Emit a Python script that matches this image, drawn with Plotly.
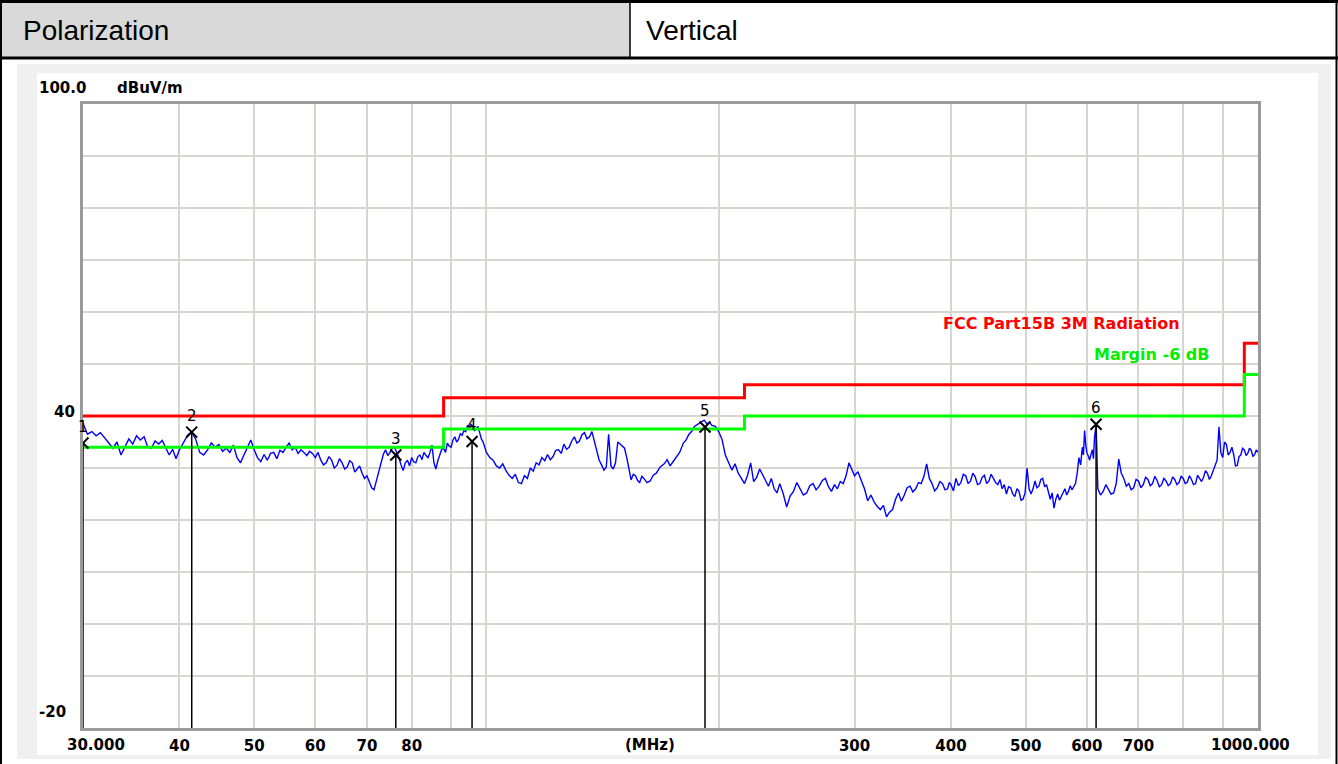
import math
import plotly.graph_objects as go

# ---------------- data ----------------
header_left = "Polarization"
header_right = "Vertical"

band_30_60 = [
    (30.0, 38.6), (30.4, 36.5), (30.8, 37.0), (31.2, 36.2), (31.6, 36.8), (32.0, 35.9), (32.4, 34.8),
    (32.8, 33.8), (33.2, 35.0), (33.6, 32.5), (34.0, 34.2), (34.4, 35.6), (34.8, 34.6), (35.2, 36.2),
    (35.6, 35.4), (36.0, 36.0), (36.4, 34.0), (36.8, 33.8), (37.2, 35.2), (37.6, 34.6), (38.0, 35.3),
    (38.4, 34.0), (38.8, 32.5), (39.2, 33.6), (39.6, 31.8),
    (40.0, 33.5), (40.5, 35.0), (41.0, 36.3), (41.5, 37.0), (42.0, 35.5), (42.5, 33.0), (43.0, 32.5),
    (43.5, 33.5), (44.0, 34.8), (44.5, 34.0), (45.0, 34.5), (45.5, 33.2), (46.0, 33.8), (46.5, 33.0),
    (47.0, 34.4), (47.5, 32.0), (48.0, 31.0), (48.5, 32.5), (49.0, 34.0), (49.5, 35.4), (50.0, 33.5),
    (50.5, 32.0), (51.0, 31.2), (51.5, 32.6), (52.0, 31.5), (52.5, 32.8), (53.0, 33.0), (53.5, 31.8),
    (54.0, 33.4), (54.5, 33.0), (55.0, 34.0), (55.5, 34.8), (56.0, 33.5), (56.5, 34.0), (57.0, 32.8),
    (57.5, 33.5), (58.0, 33.0), (58.5, 32.4), (59.0, 33.2), (59.5, 32.8),
]
band_60_100 = [
    (60.0, 32.0), (60.5, 33.0), (61.0, 31.5), (61.5, 30.6), (62.0, 31.0), (62.5, 32.2), (63.0, 31.5),
    (63.5, 30.0), (64.0, 30.5), (64.5, 31.8), (65.0, 31.0), (65.5, 29.8), (66.0, 30.2), (66.5, 31.4),
    (67.0, 31.0), (67.5, 29.2), (68.0, 29.8), (68.5, 30.4), (69.0, 29.0), (69.5, 28.0), (70.0, 28.5),
    (70.5, 27.2), (71.0, 26.2), (71.5, 25.8), (72.0, 27.5), (72.5, 29.5), (73.0, 31.0), (73.5, 32.6),
    (74.0, 33.5), (74.5, 32.4), (75.0, 33.0), (75.5, 33.8), (76.0, 34.0), (76.5, 33.0), (77.0, 32.0),
    (77.5, 30.6), (78.0, 29.5), (78.5, 31.0), (79.0, 31.5), (79.5, 30.4), (80.0, 32.0), (80.5, 31.2),
    (81.0, 31.0), (81.5, 32.2), (82.0, 32.5), (82.5, 31.6), (83.0, 33.0), (83.5, 32.4), (84.0, 32.0),
    (84.5, 33.0), (85.0, 34.4), (85.5, 31.0), (86.0, 29.8), (86.5, 31.4), (87.0, 32.5), (87.5, 33.6),
    (88.0, 33.8), (88.5, 33.0), (89.0, 34.8), (89.5, 34.2), (90.0, 34.0), (90.5, 35.4), (91.0, 36.0),
    (91.5, 35.0), (92.0, 35.5), (92.5, 36.6), (93.0, 36.3), (93.5, 37.2), (94.0, 37.0), (94.5, 38.2),
    (95.0, 37.8), (95.5, 38.4), (96.0, 38.0), (96.5, 37.2), (97.0, 37.5), (97.5, 38.0), (98.0, 36.8),
    (98.5, 35.6), (99.0, 35.0), (99.5, 34.0),
]
band_100_200 = [
    (100, 33.0), (101, 32.0), (102, 31.5), (103, 30.4), (104, 30.0), (105, 30.8), (106, 29.5),
    (107, 28.6), (108, 28.0), (109, 28.8), (110, 27.2), (111, 27.0), (112, 28.5), (113, 28.0),
    (114, 30.0), (115, 29.4), (116, 31.0), (117, 30.6), (118, 32.0), (119, 31.4), (120, 32.6),
    (121, 31.6), (122, 32.2), (123, 33.4), (124, 33.5), (125, 32.8), (126, 34.6), (127, 33.6),
    (128, 34.0), (129, 35.2), (130, 36.0), (131, 34.8), (132, 35.2), (133, 36.4), (134, 36.8),
    (135, 35.6), (136, 36.0), (137, 37.0), (138, 35.0), (139, 33.2), (140, 31.5), (141, 30.6),
    (142, 29.6), (143, 30.2), (144, 36.5), (145, 30.4), (146, 29.8), (147, 31.0), (148, 35.0),
    (149, 34.6), (150, 34.2), (151, 33.8), (152, 32.0), (153, 29.6), (154, 27.7), (155, 28.8),
    (156, 28.5), (157, 27.6), (158, 27.2), (159, 28.4), (160, 28.0), (161.5, 27.2), (163, 27.5),
    (164.5, 28.6), (166, 29.0), (168, 30.2), (170, 30.8), (171.5, 31.6), (173, 30.4), (174.5, 31.2),
    (176, 32.0), (178, 33.0), (180, 34.8), (181.5, 35.4), (183, 36.5), (184.5, 37.0), (186, 38.0),
    (188, 38.4), (190, 38.8), (191.5, 39.2), (193, 38.5), (194.5, 38.8), (196, 38.2), (198, 38.0),
]
band_200_400 = [
    (200, 37.0), (202, 35.5), (204, 32.5), (206, 31.0), (208, 29.6), (210, 30.8), (212, 29.0),
    (214, 28.0), (216, 27.0), (218, 28.6), (220, 31.0), (222, 27.4), (224, 28.2), (226, 29.8),
    (228, 28.8), (230, 27.6), (232, 26.5), (234, 28.0), (236, 26.0), (238, 25.2), (240, 27.0),
    (242.5, 25.0), (245, 22.5), (247.5, 24.6), (250, 25.5), (252.5, 27.2), (255, 26.0), (257.5, 24.8),
    (260, 25.2), (262.5, 26.6), (265, 27.0), (267.5, 25.8), (270, 26.5), (272.5, 27.6), (275, 28.0),
    (277.5, 26.4), (280, 25.5), (282.5, 26.8), (285, 26.0), (287.5, 27.4), (290, 27.0), (292.5, 28.5),
    (295, 31.0), (297.5, 29.6), (300, 28.5), (303, 29.3), (306, 27.8), (309, 26.0), (312, 23.7),
    (315, 24.8), (318, 23.5), (321, 22.6), (324, 22.0), (327, 22.8), (330, 20.6), (333, 21.5),
    (336, 22.0), (339, 24.0), (342, 25.2), (345, 23.6), (348, 24.8), (351, 26.2), (354, 26.5),
    (357, 25.4), (360, 26.0), (363, 27.2), (366, 27.0), (369, 28.4), (372, 30.8), (375, 28.0),
    (378, 27.0), (381, 25.6), (384, 26.2), (387, 27.4), (390, 27.0), (393, 25.8), (396, 26.0),
    (398, 27.2),
]
band_400_620 = [
    (400, 26.8), (403, 25.6), (406, 28.0), (409, 26.6), (412, 27.2), (415, 28.8), (418, 28.5),
    (421, 27.0), (424, 27.5), (427, 29.0), (430, 28.3), (433, 26.8), (436, 27.0), (439, 28.2),
    (442, 28.6), (445, 27.0), (448, 27.5), (451, 28.8), (454, 28.0), (457, 27.2), (460, 26.8),
    (463, 27.8), (466, 26.0), (469, 26.8), (472, 25.0), (475, 26.4), (478, 26.2), (481, 25.0),
    (484, 24.5), (487, 26.0), (490, 25.5), (493, 23.8), (496, 24.0), (499, 25.2), (502, 30.0),
    (505, 26.0), (508, 25.0), (511, 26.0), (514, 27.5), (517, 26.2), (520, 26.5), (523, 27.8),
    (526, 28.0), (529, 26.4), (532, 26.8), (535, 25.6), (538, 24.0), (541, 25.2), (544, 22.3),
    (547, 24.0), (550, 25.0), (553, 23.8), (556, 24.6), (559, 25.4), (562, 26.0), (565, 24.8),
    (568, 25.5), (571, 26.6), (574, 25.8), (577, 26.4), (580, 27.0), (583, 29.0), (586, 32.0),
    (589, 30.6), (592, 34.0), (594, 32.5), (596, 37.2), (598, 34.5), (600, 33.0), (603, 32.2),
    (605, 31.5), (608, 32.8), (610, 33.5), (612, 31.8), (614, 36.0), (617, 38.3), (619, 30.0),
]
band_620_1000 = [
    (620, 26.0), (625, 24.8), (630, 25.5), (635, 26.8), (640, 26.0), (645, 25.0), (650, 25.2),
    (655, 27.0), (660, 31.7), (665, 29.0), (670, 28.0), (675, 26.5), (680, 27.0), (685, 25.8),
    (690, 26.2), (695, 27.8), (700, 27.5), (705, 26.2), (710, 26.8), (715, 28.2), (720, 27.8),
    (725, 26.6), (730, 27.0), (735, 28.4), (740, 27.6), (745, 26.4), (750, 26.8), (755, 28.0),
    (760, 27.5), (765, 26.6), (770, 27.0), (775, 28.3), (780, 27.8), (785, 26.8), (790, 27.2),
    (795, 28.4), (800, 28.0), (805, 27.0), (810, 27.3), (815, 28.5), (820, 27.8), (825, 26.8),
    (830, 27.0), (835, 28.6), (840, 28.0), (845, 27.4), (850, 28.2), (855, 29.5), (860, 29.0),
    (865, 27.8), (870, 28.5), (875, 29.6), (880, 30.5), (885, 31.5), (890, 37.9), (895, 33.0),
    (900, 32.0), (905, 35.0), (910, 34.5), (915, 32.5), (920, 33.0), (925, 34.0), (930, 32.6),
    (935, 30.4), (940, 30.5), (945, 32.2), (950, 32.5), (955, 33.8), (960, 33.5), (965, 32.4),
    (970, 32.8), (975, 33.8), (980, 33.4), (985, 32.2), (990, 32.6), (995, 33.5), (1000, 33.0),
]

# FCC Part 15B class B 3 m limit (step breakpoints) and -6 dB margin
limit_freq = [30, 88, 216, 960, 1000]
limit_level = [40, 43.5, 46, 54, 54]
margin_level = [34, 37.5, 40, 48, 48]

marker_no = ["1", "2", "3", "4", "5", "6"]
marker_freq = [30.0, 41.5, 76.3, 95.8, 192.0, 616.8]
marker_level = [34.8, 36.9, 32.5, 35.1, 37.9, 38.4]

x_tickvals = [30, 40, 50, 60, 70, 80, 90, 100, 200, 300, 400, 500, 600, 700, 800, 900, 1000]
x_ticktext = ["", "40", "50", "60", "70", "80", "", "", "", "300", "400", "500", "600", "700", "", "", ""]

Y_MIN, Y_MAX = -20, 100
F_MIN, F_MAX = 30, 1000

spectrum = band_30_60 + band_60_100 + band_100_200 + band_200_400 + band_400_620 + band_620_1000
freq_mhz = [f for f, _ in spectrum]
level_dbuv = [v for _, v in spectrum]

# ---------------- layout helpers ----------------
W, H = 1338, 764
L, R, T, B = 83, 1258, 104, 728


def px(x):
    return (x - L) / (R - L)


def py(y):
    return (B - y) / (B - T)


CHART_FONT = "DejaVu Sans"

fig = go.Figure()

# spectrum trace
fig.add_trace(go.Scatter(
    x=freq_mhz, y=level_dbuv, mode="lines",
    line=dict(color="#0000ff", width=1.4), hoverinfo="skip", showlegend=False))

# limit lines
fig.add_trace(go.Scatter(
    x=limit_freq, y=limit_level, mode="lines", line_shape="hv",
    line=dict(color="#ff0000", width=3), showlegend=False))
fig.add_trace(go.Scatter(
    x=limit_freq, y=margin_level, mode="lines", line_shape="hv",
    line=dict(color="#00ff00", width=3), showlegend=False))

# marker drop lines
vx, vy = [], []
for f, lv in zip(marker_freq, marker_level):
    vx += [f, f, None]
    vy += [lv, Y_MIN, None]
fig.add_trace(go.Scatter(x=vx, y=vy, mode="lines",
                         line=dict(color="#000000", width=1.5), showlegend=False))

# marker X symbols
fig.add_trace(go.Scatter(
    x=marker_freq, y=marker_level, mode="markers",
    marker=dict(symbol="x-thin-open", size=11, color="#000000",
                line=dict(color="#000000", width=2)),
    showlegend=False))

annotations = []
for n, f, lv in zip(marker_no, marker_freq, marker_level):
    # annotations on a log axis take log10 positions
    annotations.append(dict(x=math.log10(f), y=lv, xref="x", yref="y", text=n, showarrow=False,
                            yshift=16, font=dict(family=CHART_FONT, size=15, color="#000000")))


def ann(text, x, y, xanchor="left", color="#000000", size=15, bold=True, family=CHART_FONT):
    annotations.append(dict(x=px(x), y=py(y), xref="paper", yref="paper",
                            text=(f"<b>{text}</b>" if bold else text),
                            showarrow=False, xanchor=xanchor, yanchor="middle",
                            font=dict(family=family, size=size, color=color)))


ann("100.0", 37, 88)
ann("dBuV/m", 115, 88)
ann("40", 77, 412, xanchor="right")
ann("-20", 37, 712)
ann("30.000", 96, 745, xanchor="center")
ann("1000.000", 1250, 745, xanchor="center")
ann("(MHz)", 650, 745, xanchor="center")
ann("FCC Part15B 3M Radiation", 941, 323, color="#ff0000", size=16)
ann("Margin -6 dB", 1092, 354, color="#00ee00", size=16)
ann(header_left, 21, 31, size=28, bold=False, family="Liberation Sans")
ann(header_right, 644, 31, size=28, bold=False, family="Liberation Sans")

shapes = [
    dict(type="rect", xref="paper", yref="paper", x0=px(17), x1=px(1331), y0=py(759), y1=py(64),
         fillcolor="#f0f0f0", line=dict(width=0), layer="below"),
    dict(type="rect", xref="paper", yref="paper", x0=px(37), x1=px(1318), y0=py(755), y1=py(73),
         fillcolor="#ffffff", line=dict(width=0), layer="below"),
    dict(type="rect", xref="paper", yref="paper", x0=px(1), x1=px(630), y0=py(58), y1=py(2),
         fillcolor="#d9d9d9", line=dict(width=0), layer="below"),
    dict(type="line", xref="paper", yref="paper", x0=px(0), x1=px(1338), y0=py(1.5), y1=py(1.5),
         line=dict(color="#000000", width=3)),
    dict(type="line", xref="paper", yref="paper", x0=px(0), x1=px(1338), y0=py(58), y1=py(58),
         line=dict(color="#000000", width=3)),
    dict(type="line", xref="paper", yref="paper", x0=px(630), x1=px(630), y0=py(2), y1=py(58),
         line=dict(color="#000000", width=1.5)),
    dict(type="line", xref="paper", yref="paper", x0=px(1), x1=px(1), y0=py(0), y1=py(764),
         line=dict(color="#000000", width=2)),
    dict(type="line", xref="paper", yref="paper", x0=px(1336.5), x1=px(1336.5), y0=py(0), y1=py(764),
         line=dict(color="#000000", width=2)),
]

fig.update_layout(
    width=W, height=H,
    margin=dict(l=L, r=W - R, t=T, b=H - B, pad=0, autoexpand=False),
    paper_bgcolor="#ffffff", plot_bgcolor="#ffffff",
    showlegend=False,
    annotations=annotations,
    shapes=shapes,
    xaxis=dict(type="log", range=[math.log10(F_MIN), math.log10(F_MAX)],
               tickvals=x_tickvals, ticktext=x_ticktext, automargin=False,
               showgrid=True, gridcolor="#d8d5cf", gridwidth=2,
               showline=True, linecolor="#9a9a9a", linewidth=3, mirror=True,
               ticks="", zeroline=False, ticklabelstandoff=2,
               tickfont=dict(family=CHART_FONT, size=15, color="#000000", weight="bold")),
    yaxis=dict(range=[Y_MIN, Y_MAX], dtick=10, tick0=0, automargin=False,
               showgrid=True, gridcolor="#d8d5cf", gridwidth=2,
               showline=True, linecolor="#9a9a9a", linewidth=3, mirror=True,
               showticklabels=False, ticks="", zeroline=False),
)

fig.write_html("out.html", config={"displayModeBar": False},
               post_script="document.body.style.margin='0';")
